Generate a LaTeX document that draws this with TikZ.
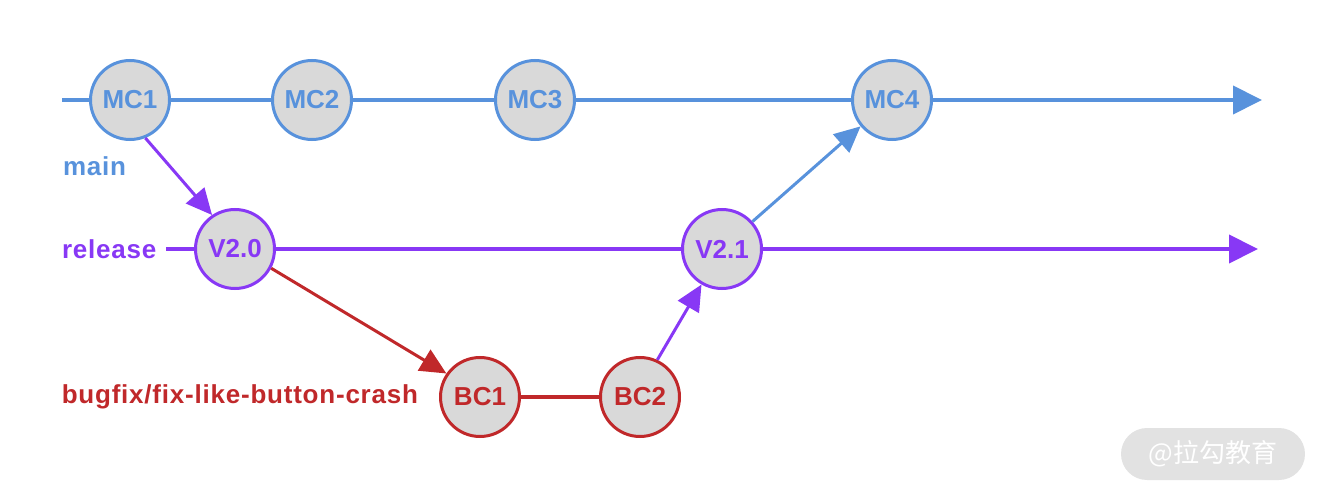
\documentclass[tikz,border=0pt]{standalone}
\usepackage{fontspec}
\setmainfont{Liberation Sans}
\newfontfamily\cjk{Noto Sans CJK SC}
\newfontfamily\widesans[LetterSpace=3]{Liberation Sans}
\usetikzlibrary{arrows.meta}
\definecolor{main_blue}{RGB}{88,146,220}
\definecolor{rel_purple}{RGB}{136,56,245}
\definecolor{fix_red}{RGB}{192,40,42}
\definecolor{node_fill}{RGB}{217,217,217}
\definecolor{mark_gray}{RGB}{226,226,226}

\begin{document}
\begin{tikzpicture}[x=1pt,y=-1pt,line width=4pt,>={Triangle[length=29pt,width=28pt]}]
    \tikzstyle{big}=[font=\fontsize{26}{30}\selectfont\bfseries]
    \tikzstyle{label}=[font=\widesans\fontsize{26}{30}\selectfont\bfseries, inner sep=0pt]
    \tikzstyle{commit}=[big, circle, minimum size=79pt, inner sep=0pt, line width=3pt, fill=node_fill]
    \tikzstyle{mc}=[commit, draw=main_blue, text=main_blue]
    \tikzstyle{rc}=[commit, draw=rel_purple, text=rel_purple]
    \tikzstyle{bc}=[commit, draw=fix_red, text=fix_red]
    \tikzstyle{jump}=[line width=3pt, -{Triangle[length=26pt,width=24pt]}]
    \useasboundingbox (0,0) rectangle (1323,497);

    % watermark
    \node[fill=mark_gray, rounded corners=26pt, minimum width=184pt, minimum height=52pt,
          text=white, font=\cjk\fontsize{26}{30}\selectfont] (mark) at (1213,454) {@拉勾教育};

    % commits
    \node[mc] (MC1) at (130,100) {MC1};
    \node[mc] (MC2) at (312,100) {MC2};
    \node[mc] (MC3) at (535,100) {MC3};
    \node[mc] (MC4) at (892,100) {MC4};
    \node[rc] (V20) at (235,249) {V2.0};
    \node[rc] (V21) at (722,249) {V2.1};
    \node[bc] (BC1) at (480,397) {BC1};
    \node[bc] (BC2) at (640,397) {BC2};

    % branch names
    \node[label, text=main_blue, anchor=west] (lmain) at (61,166) {main};
    \node[label, text=rel_purple, anchor=west] (lrel) at (60,249) {release};
    \node[label, text=fix_red, anchor=east] (lfix) at (420,397) {bugfix/fix-like-button-crash};

    \coordinate (m0) at (62,100);
    \coordinate (m1) at (1262,100);
    \coordinate (r0) at (166,249);
    \coordinate (r1) at (1258,249);

    \draw[main_blue,->] (m0) -- (MC1) -- (MC2) -- (MC3) -- (MC4) -- (m1);
    \draw[rel_purple,->] (r0) -- (V20) -- (V21) -- (r1);
    \draw[fix_red] (BC1) -- (BC2);

    \draw[jump, rel_purple] (MC1.-68) -- (V20.124);
    \draw[jump, fix_red] (V20.-28) -- (BC1.145);
    \draw[jump, rel_purple] (BC2.65) -- (V21.-120);
    \draw[jump, main_blue] (V21.42) -- (MC4.-140);
\end{tikzpicture}
\end{document}
